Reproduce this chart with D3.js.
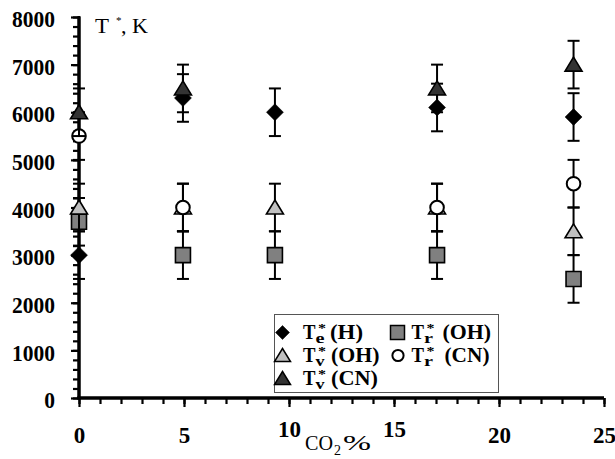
<!DOCTYPE html>
<html>
<head>
<meta charset="utf-8">
<script src="https://cdn.jsdelivr.net/npm/d3@7"></script>
<style>
  body { margin: 0; background: #fff; }
  text { font-family: "Liberation Serif", "Times New Roman", serif; }
</style>
</head>
<body>
<script>
// CO2 content, %
var co2 = [0, 4.95, 9.33, 17.05, 23.55];
// temperatures, K (null = not measured)
var teH  = [3000, 6300, 6000, 6100, 5900];
var trOH = [3700, 3000, 3000, 3000, 2500];
var tvOH = [4000, 4000, 4000, 4000, 3500];
var trCN = [5500, 4000, null, 4000, 4500];
var tvCN = [6000, 6500, null, 6500, 7000];
var errK = 500;

var xMajor = [0, 5, 10, 15, 20, 25];
var yMajor = [0, 1000, 2000, 3000, 4000, 5000, 6000, 7000, 8000];

var W = 615, H = 459;
var x = d3.scaleLinear().domain([0, 25]).range([79, 604]);
var y = d3.scaleLinear().domain([0, 8000]).range([398, 17]);

var svg = d3.select("body").append("svg")
    .attr("width", W).attr("height", H);

// small text helper; len forces the printed width (the original lettering is wide)
function txt(parent, tx, ty, str, size, bold, len) {
    var t = parent.append("text").attr("x", tx).attr("y", ty)
        .attr("font-size", size).text(str);
    if (bold) t.attr("font-weight", "bold");
    if (len) t.attr("textLength", len).attr("lengthAdjust", "spacingAndGlyphs");
    return t;
}

// marker shapes (centred on the bounding box, like the spreadsheet did)
function shape(kind, s) {
    var h = s / 2;
    if (kind == "diamond") return "M0," + (-h) + "L" + h + ",0L0," + h + "L" + (-h) + ",0Z";
    if (kind == "square") return "M" + (-h) + "," + (-h) + "h" + s + "v" + s + "h" + (-s) + "Z";
    if (kind == "triangle") return "M0," + (-h) + "L" + (h + 1) + "," + (h - 1) + "L" + (-h - 1) + "," + (h - 1) + "Z";
    return null;
}

var series = [
    {name: "e", mol: "(H)", vals: teH, kind: "diamond", fill: "#000", size: 17},
    {name: "r", mol: "(OH)", vals: trOH, kind: "square", fill: "#808080", size: 15},
    {name: "v", mol: "(OH)", vals: tvOH, kind: "triangle", fill: "#c0c0c0", size: 15},
    {name: "r", mol: "(CN)", vals: trCN, kind: "circle", fill: "#fff", size: 13},
    {name: "v", mol: "(CN)", vals: tvCN, kind: "triangle", fill: "#333", size: 15}
];

// ---- axes
var xMinor = svg.append("g").attr("transform", "translate(0," + y(0) + ")")
    .call(d3.axisBottom(x).tickValues(d3.range(0, 26, 1)).tickSize(6).tickFormat(""));
var xAxis = svg.append("g").attr("transform", "translate(0," + y(0) + ")")
    .call(d3.axisBottom(x).tickValues(xMajor).tickSize(9).tickFormat(d3.format("d")));
var yMinor = svg.append("g").attr("transform", "translate(" + x(0) + ",0)")
    .call(d3.axisLeft(y).tickValues(d3.range(0, 8001, 200)).tickSize(6).tickFormat(""));
var yAxis = svg.append("g").attr("transform", "translate(" + x(0) + ",0)")
    .call(d3.axisLeft(y).tickValues(yMajor).tickSize(8).tickPadding(16).tickFormat(d3.format("d")));

[xMinor, xAxis, yMinor, yAxis].forEach(function (g) {
    g.select(".domain").attr("stroke", "#000").attr("stroke-width", 3);
    g.selectAll(".tick line").attr("stroke", "#000").attr("stroke-width", 2.2);
});
xMinor.select(".domain").attr("d", "M" + x(0) + ",0H" + x(25));
xAxis.select(".domain").attr("d", "M" + (x(0) - 2) + ",0H" + x(25));
yAxis.select(".domain").attr("d", "M0," + y(0) + "V" + (y(8000) - 1));
yMinor.select(".domain").attr("d", "M0," + y(0) + "V" + y(8000));

xAxis.selectAll(".tick text")
    .attr("dy", 0)
    .attr("y", function (d) { return (d == 10 || d == 15) ? 39 : 45; })
    .attr("font-size", 23).attr("font-weight", "bold").attr("fill", "#000")
    .attr("textLength", function (d) { return String(d).length * 11.5; })
    .attr("lengthAdjust", "spacingAndGlyphs");
yAxis.selectAll(".tick text")
    .attr("dy", "0.42em")
    .attr("font-size", 23).attr("font-weight", "bold").attr("fill", "#000")
    .attr("textLength", function (d) { return String(d).length * 10.75; })
    .attr("lengthAdjust", "spacingAndGlyphs");

// axis titles
txt(svg, 95, 33, "T", 20, false, 14);
txt(svg, 116, 24, "*", 11, false);
txt(svg, 121, 33, ", K", 20, false, 27);

txt(svg, 305, 450, "CO", 20, false, 28);
txt(svg, 334, 455, "2", 14, false, 7);
txt(svg, 343, 450, "%", 20, false, 28);

// ---- points with error bars
series.forEach(function (s) {
    var pts = co2.map(function (c, i) { return {x: c, v: s.vals[i]}; })
        .filter(function (p) { return p.v != null; });

    var eb = svg.append("g").attr("stroke", "#000").attr("stroke-width", 2);
    pts.forEach(function (p) {
        var cx = x(p.x);
        eb.append("line").attr("x1", cx).attr("x2", cx)
            .attr("y1", y(p.v - errK)).attr("y2", y(p.v + errK));
        [p.v - errK, p.v + errK].forEach(function (e) {
            eb.append("line").attr("x1", cx - 6).attr("x2", cx + 6)
                .attr("y1", y(e)).attr("y2", y(e));
        });
    });

    var g = svg.append("g");
    if (s.kind == "circle") {
        g.selectAll("circle").data(pts).enter().append("circle")
            .attr("cx", function (p) { return x(p.x); })
            .attr("cy", function (p) { return y(p.v); })
            .attr("r", 6.8).attr("fill", s.fill)
            .attr("stroke", "#000").attr("stroke-width", 2);
    } else {
        g.selectAll("path").data(pts).enter().append("path")
            .attr("d", shape(s.kind, s.size))
            .attr("transform", function (p) { return "translate(" + x(p.x) + "," + y(p.v) + ")"; })
            .attr("fill", s.fill)
            .attr("stroke", "#000").attr("stroke-width", s.kind == "diamond" ? 0.5 : 1.6);
    }
});

// ---- legend
var lg = svg.append("g");
lg.append("rect").attr("x", 274.5).attr("y", 314.5).attr("width", 224).attr("height", 78)
    .attr("fill", "#fff").attr("stroke", "#555").attr("stroke-width", 1);

// [marker x, marker y, text x, gap to bracket]
var legPos = [[282.5, 332.5, 303, 27], [397.5, 332.5, 411.5, 31],
              [282.5, 355.5, 303, 28], [398, 355.5, 411.5, 33], [282.5, 378.5, 303, 28]];
var molLen = {"(H)": 33, "(OH)": 48.5, "(CN)": 47};
series.forEach(function (s, i) {
    var px = legPos[i][0], py = legPos[i][1], tx = legPos[i][2], gap = legPos[i][3];
    if (s.kind == "circle") {
        lg.append("circle").attr("cx", px).attr("cy", py).attr("r", 5.6)
            .attr("fill", "#fff").attr("stroke", "#000").attr("stroke-width", 2);
    } else {
        lg.append("path").attr("d", shape(s.kind, 14))
            .attr("transform", "translate(" + px + "," + py + ")")
            .attr("fill", s.fill).attr("stroke", "#000")
            .attr("stroke-width", s.kind == "diamond" ? 0.5 : 1.5);
    }
    var by = py + 6.5;
    txt(lg, tx, by, "T", 20, true, 12.5);
    txt(lg, tx + 15, by - 7.5, "*", 13, true, 8);
    txt(lg, tx + 12.5, by + 4, s.name, 15, true, 9);
    txt(lg, tx + gap, by, s.mol, 20, true, molLen[s.mol] - (i == 3 ? 2 : 0));
});
</script>
</body>
</html>
